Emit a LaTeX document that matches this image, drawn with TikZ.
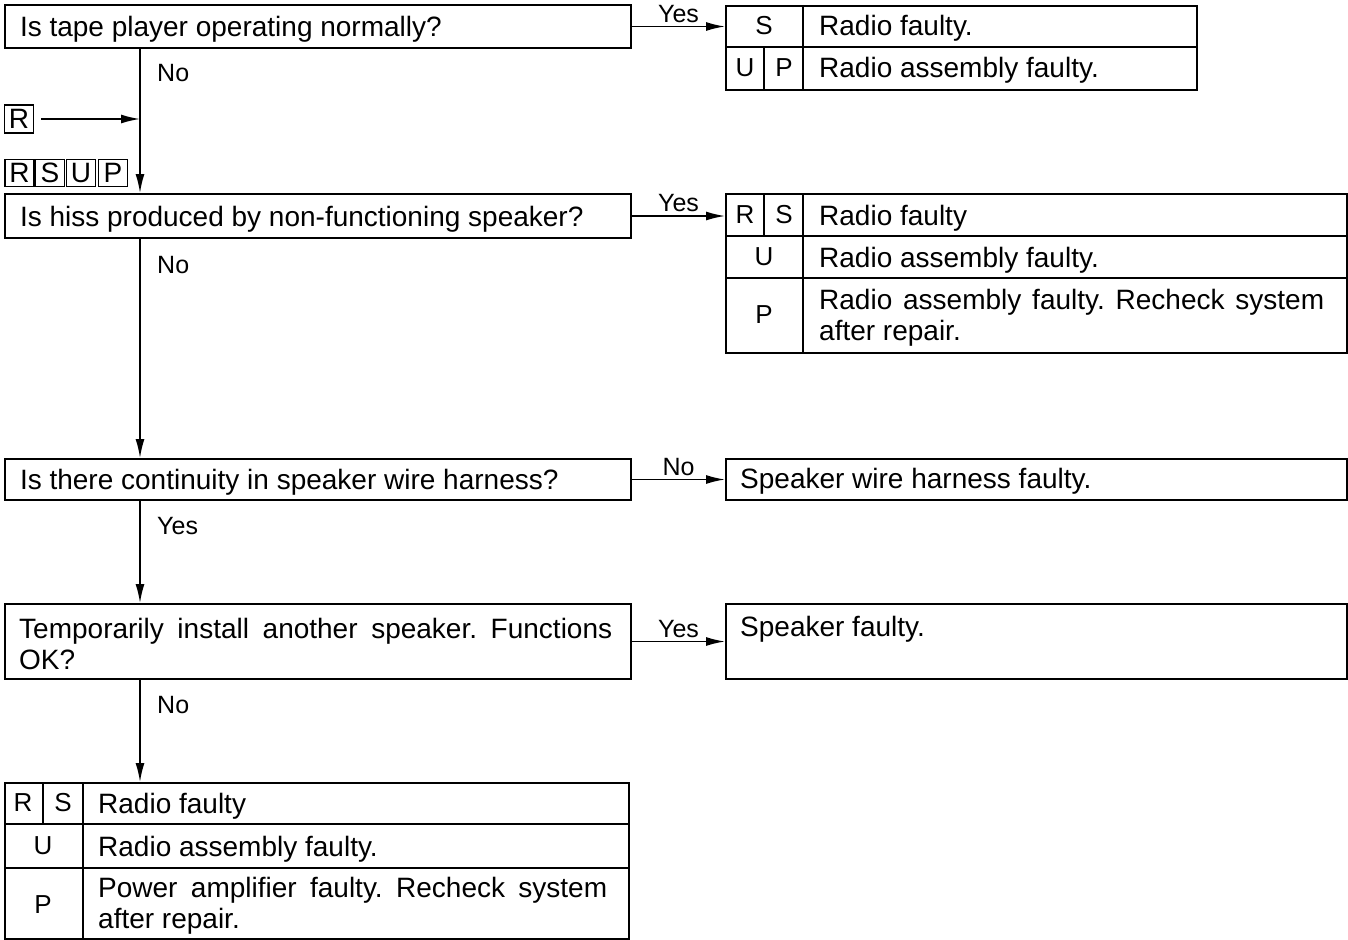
\documentclass[tikz,border=0pt]{standalone}
\usepackage{fontspec}
\setmainfont{Liberation Sans}
\usetikzlibrary{arrows.meta}
\frenchspacing
\begin{document}
\begin{tikzpicture}[x=1pt,y=-1pt,
  box/.style={draw, line width=2pt, inner sep=0pt, anchor=north west},
  qbox/.style={box, inner xsep=15pt, align=justify, text width=596pt, text depth=0pt,
     minimum width=626pt, font=\fontsize{28}{31}\selectfont},
  arr/.style={line width=1.6pt, -{Latex[length=19pt,width=9pt]}},
  lbl/.style={font=\fontsize{25}{28}\selectfont, inner sep=1pt},
  cell/.style={font=\fontsize{26}{28}\selectfont, inner sep=0pt},
  txt/.style={font=\fontsize{28}{31}\selectfont, anchor=base west, inner sep=0pt},
  ptxt/.style={font=\fontsize{28}{31}\selectfont, anchor=west, inner sep=0pt, align=justify},
  sep/.style={line width=1.5pt},
  lbox/.style={draw, line width=1.5pt, minimum width=29pt, minimum height=27pt, inner sep=0pt, font=\fontsize{28}{28}\selectfont}
]
\useasboundingbox (0,0) rectangle (1348,939);
\coordinate (sp) at (140,0);

% Questions
\node[qbox, minimum height=43pt] (q1) at (4,4) {Is tape player operating normally?};
\node[qbox, minimum height=44pt] (q2) at (4,193) {Is hiss produced by non-functioning speaker?};
\node[qbox, minimum height=41pt] (q3) at (4,458) {Is there continuity in speaker wire harness?};
\node[box, minimum width=626pt, minimum height=75pt] (q4) at (4,603) {};
\node[ptxt, text width=593pt] (q4t) at (19,644) {Temporarily install another speaker. Functions OK?};

% Left markers
\node[lbox, minimum height=28pt] (rb) at (19,119) {R};
\node[lbox] (m1) at (19.5,173) {R};
\node[lbox] (m2) at (50,173) {S};
\node[lbox] (m3) at (81,173) {U};
\node[lbox] (m4) at (113,173) {P};
\coordinate (rj) at (rb.east -| sp);
\draw[arr, shorten <=7pt] (rb.east) -- (rj);

% Result table 1
\node[box, minimum width=471pt, minimum height=84pt] (r1) at (725,5) {};
\draw[sep] (725,47) -- (1196,47);
\draw[sep] (803,5) -- (803,89);
\draw[sep] (764,47) -- (764,89);
\node[cell] (r1s) at (764,26) {S};
\node[cell] (r1u) at (745,68) {U};
\node[cell] (r1p) at (784,68) {P};
\node[txt] (r1a) at (819,36) {Radio faulty.};
\node[txt] (r1b) at (819,78) {Radio assembly faulty.};

% Result table 2
\node[box, minimum width=621pt, minimum height=159pt] (r2) at (725,193) {};
\draw[sep] (725,236) -- (1346,236);
\draw[sep] (725,278) -- (1346,278);
\draw[sep] (803,193) -- (803,352);
\draw[sep] (764,193) -- (764,236);
\node[cell] (r2r) at (745,215) {R};
\node[cell] (r2s) at (784,215) {S};
\node[cell] (r2u) at (764,257) {U};
\node[cell] (r2p) at (764,315) {P};
\node[txt] (r2a) at (819,225) {Radio faulty};
\node[txt] (r2b) at (819,267) {Radio assembly faulty.};
\node[ptxt, text width=505pt] (r2c) at (819,318) {Radio assembly faulty. Recheck system after repair.};

% Result 3 and 4
\node[box, minimum width=621pt, minimum height=41pt] (r3) at (725,458) {};
\node[txt] (r3a) at (740,488) {Speaker wire harness faulty.};
\node[box, minimum width=621pt, minimum height=75pt] (r4) at (725,603) {};
\node[txt] (r4a) at (740,636) {Speaker faulty.};

% Result table 5
\node[box, minimum width=624pt, minimum height=156pt] (r5) at (4,782) {};
\draw[sep] (4,824) -- (628,824);
\draw[sep] (4,868) -- (628,868);
\draw[sep] (83,782) -- (83,938);
\draw[sep] (43,782) -- (43,824);
\node[cell] (r5r) at (23,803) {R};
\node[cell] (r5s) at (63,803) {S};
\node[cell] (r5u) at (43,846) {U};
\node[cell] (r5p) at (43,905) {P};
\node[txt] (r5a) at (98,813) {Radio faulty};
\node[txt] (r5b) at (98,856) {Radio assembly faulty.};
\node[ptxt, text width=509pt] (r5c) at (98,906) {Power amplifier faulty. Recheck system after repair.};

% Horizontal connectors
\draw[arr] (q1.east) -- (q1.east -| r1.west) node[lbl, midway, above=2pt] (y1) {Yes};
\draw[arr] (q2.east) -- (q2.east -| r2.west) node[lbl, midway, above=2pt] (y2) {Yes};
\draw[arr] (q3.east) -- (q3.east -| r3.west) node[lbl, midway, above=2pt] (n3) {No};
\draw[arr] (q4.east) -- (q4.east -| r4.west) node[lbl, midway, above=2pt] (y4) {Yes};

% Vertical connectors
\draw[arr] (q1.south -| sp) -- (q2.north -| sp);
\draw[arr] (q2.south -| sp) -- (q3.north -| sp);
\draw[arr] (q3.south -| sp) -- (q4.north -| sp);
\draw[arr] (q4.south -| sp) -- (r5.north -| sp);
\node[lbl, anchor=west] (v1) at (156,73) {No};
\node[lbl, anchor=west] (v2) at (156,265) {No};
\node[lbl, anchor=west] (v3) at (156,526) {Yes};
\node[lbl, anchor=west] (v4) at (156,705) {No};
\end{tikzpicture}
\end{document}
